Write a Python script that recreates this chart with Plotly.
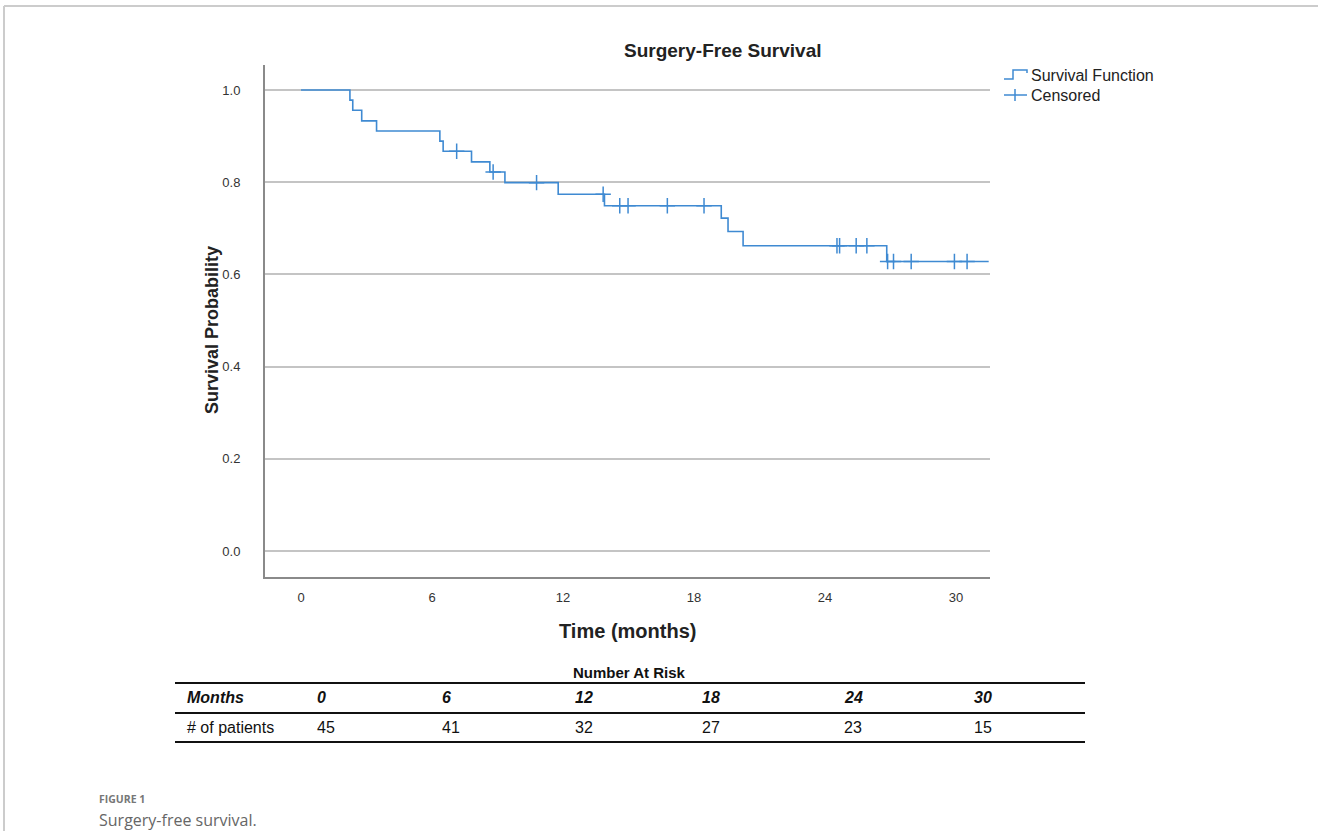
import plotly.graph_objects as go

# ---- data ----
event_times = [0, 2.24, 2.37, 2.78, 3.46, 6.36, 6.51, 7.81, 8.65, 9.34, 11.78, 13.9,
               19.25, 19.56, 20.25, 26.83, 31.5]
surv_levels = [1.0, 0.978, 0.956, 0.933, 0.911, 0.889, 0.867, 0.844, 0.822, 0.799,
               0.774, 0.749, 0.722, 0.693, 0.662, 0.628, 0.628]
censor_times = [7.13, 8.80, 10.79, 13.84, 14.6, 14.98, 16.78, 18.46, 24.55, 24.67,
                25.43, 25.92, 26.87, 27.14, 27.95, 29.93, 30.51]
censor_levels = [0.867, 0.822, 0.799, 0.774, 0.749, 0.749, 0.749, 0.749, 0.662, 0.662,
                 0.662, 0.662, 0.628, 0.628, 0.628, 0.628, 0.628]
x_ticks = [0, 6, 12, 18, 24, 30]
y_ticks = [0.0, 0.2, 0.4, 0.6, 0.8, 1.0]
y_tick_text = ["0.0", "0.2", "0.4", "0.6", "0.8", "1.0"]
risk_months = ["0", "6", "12", "18", "24", "30"]
risk_patients = [45, 41, 32, 27, 23, 15]
legend_names = ["Survival Function", "Censored"]

# ---- layout geometry (page pixels) ----
W, H = 1318, 831
L, R, T, B = 265, 990, 65, 577


def px(x):
    return (x - L) / (R - L)


def py(y):
    return (B - y) / (B - T)


BLUE = "#3f8ad2"
FONT = "Liberation Sans, Arial, sans-serif"

fig = go.Figure()
fig.add_trace(go.Scatter(
    x=event_times, y=surv_levels, mode="lines", name=legend_names[0],
    line=dict(shape="hv", color=BLUE, width=1.6), hoverinfo="x+y", showlegend=False))
fig.add_trace(go.Scatter(
    x=censor_times, y=censor_levels, mode="markers", name=legend_names[1],
    marker=dict(symbol="cross-thin-open", size=11, color=BLUE,
                line=dict(color=BLUE, width=1.5)), hoverinfo="x+y", showlegend=False))

fig.update_layout(
    width=W, height=H,
    margin=dict(l=L, r=W - R, t=T, b=H - B, pad=0),
    paper_bgcolor="white", plot_bgcolor="white",
    font=dict(family=FONT, color="#333333"),
    showlegend=False,
    xaxis=dict(range=[-1.65, 31.56], tickvals=x_ticks, showgrid=False,
               zeroline=False, showline=True, linecolor="#8a8a8a", linewidth=2,
               ticks="", tickfont=dict(size=13, color="#333333"),
               ticklabelstandoff=7, fixedrange=True),
    yaxis=dict(range=[-0.0564, 1.0542], tickvals=y_ticks, ticktext=y_tick_text,
               showgrid=True, gridcolor="#c4c4c4", gridwidth=1.5,
               zeroline=False, showline=True, linecolor="#8a8a8a", linewidth=2,
               ticks="", tickfont=dict(size=13, color="#333333"),
               ticklabelstandoff=20, fixedrange=True),
)

ann = []
ann.append(dict(x=px(722), y=py(50), xref="paper", yref="paper", showarrow=False,
                text="<b>Surgery-Free Survival</b>", font=dict(size=19, color="#222222"),
                xanchor="center", yanchor="middle"))
ann.append(dict(x=px(212), y=py(330), xref="paper", yref="paper", showarrow=False,
                text="<b>Survival Probability</b>", textangle=-90,
                font=dict(size=18, color="#222222"), xanchor="center", yanchor="middle"))
ann.append(dict(x=px(627), y=py(631), xref="paper", yref="paper", showarrow=False,
                text="<b>Time (months)</b>", font=dict(size=20, color="#222222"),
                xanchor="center", yanchor="middle"))

# custom legend text
for name, yy in zip(legend_names, [75, 95]):
    ann.append(dict(x=px(1029), y=py(yy), xref="paper", yref="paper", showarrow=False,
                    text=name, font=dict(size=16, color="#222222"),
                    xanchor="left", yanchor="middle"))

# Number at risk table
ann.append(dict(x=px(629), y=py(672), xref="paper", yref="paper", showarrow=False,
                text="<b>Number At Risk</b>", font=dict(size=15, color="#111111"),
                xanchor="center", yanchor="middle"))
col_x = [315, 440, 573, 700, 842, 972]
ann.append(dict(x=px(185), y=py(697), xref="paper", yref="paper", showarrow=False,
                text="<b><i>Months</i></b>", font=dict(size=16, color="#111111"),
                xanchor="left", yanchor="middle"))
ann.append(dict(x=px(185), y=py(727), xref="paper", yref="paper", showarrow=False,
                text="# of patients", font=dict(size=16, color="#111111"),
                xanchor="left", yanchor="middle"))
for cx, m, n in zip(col_x, risk_months, risk_patients):
    ann.append(dict(x=px(cx), y=py(697), xref="paper", yref="paper", showarrow=False,
                    text=f"<b><i>{m}</i></b>", font=dict(size=16, color="#111111"),
                    xanchor="left", yanchor="middle"))
    ann.append(dict(x=px(cx), y=py(727), xref="paper", yref="paper", showarrow=False,
                    text=str(n), font=dict(size=16, color="#111111"),
                    xanchor="left", yanchor="middle"))

# Caption
ann.append(dict(x=px(97), y=py(799), xref="paper", yref="paper", showarrow=False,
                text="<b>FIGURE 1</b>", font=dict(size=10.5, color="#777777", family="Open Sans, sans-serif"),
                xanchor="left", yanchor="middle"))
ann.append(dict(x=px(97), y=py(820), xref="paper", yref="paper", showarrow=False,
                text="Surgery-free survival.", font=dict(size=16, color="#666666", family="Open Sans, sans-serif"),
                xanchor="left", yanchor="middle"))
fig.update_layout(annotations=ann)

shapes = []
for yy in [683, 713, 742]:
    shapes.append(dict(type="line", xref="paper", yref="paper",
                       x0=px(175), x1=px(1085), y0=py(yy), y1=py(yy),
                       line=dict(color="#111111", width=2)))
# page border
shapes.append(dict(type="line", xref="paper", yref="paper",
                   x0=px(4), x1=px(W), y0=py(6), y1=py(6),
                   line=dict(color="#cccccc", width=2)))
shapes.append(dict(type="line", xref="paper", yref="paper",
                   x0=px(4), x1=px(4), y0=py(6), y1=py(H),
                   line=dict(color="#cccccc", width=2)))
# legend glyphs
shapes.append(dict(type="path", xref="paper", yref="paper",
                   path=(f"M {px(1004)},{py(79)} L {px(1013)},{py(79)} L {px(1013)},{py(70)} "
                         f"L {px(1027)},{py(70)} L {px(1027)},{py(73)}"),
                   line=dict(color=BLUE, width=1.5)))
shapes.append(dict(type="line", xref="paper", yref="paper",
                   x0=px(1004), x1=px(1027), y0=py(95), y1=py(95),
                   line=dict(color=BLUE, width=1.5)))
shapes.append(dict(type="line", xref="paper", yref="paper",
                   x0=px(1015), x1=px(1015), y0=py(89), y1=py(101),
                   line=dict(color=BLUE, width=1.5)))
fig.update_layout(shapes=shapes)

fig.write_html("out.html", config={"displayModeBar": False},
               post_script="document.body.style.margin='0';document.body.style.overflow='hidden';")
